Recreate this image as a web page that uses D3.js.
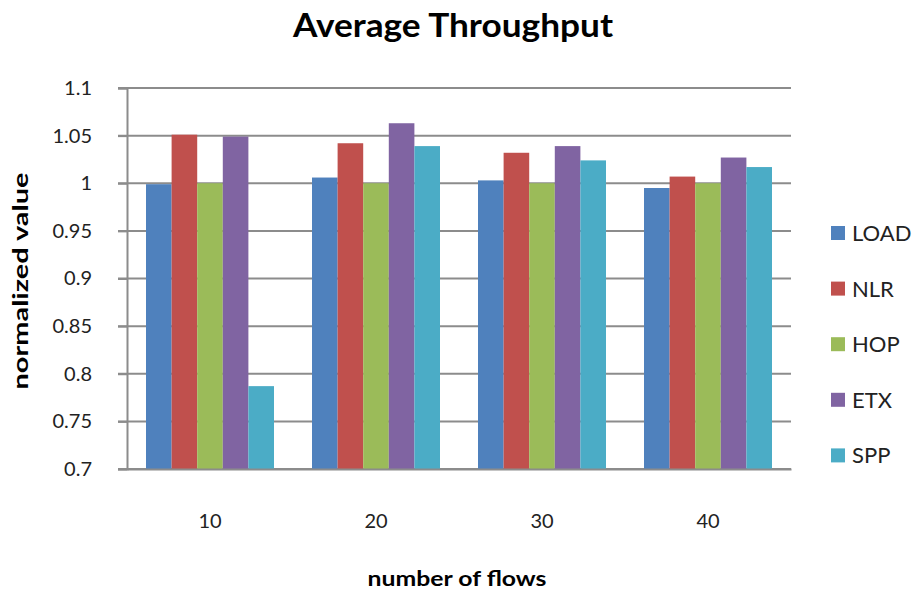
<!DOCTYPE html>
<html lang="en">
<head>
    <meta charset="UTF-8">
    <title>Average Throughput</title>
    <script src="https://cdn.jsdelivr.net/npm/d3@7"></script>
    <style>
      body { margin: 0; background: #fff; }
      text { font-family: Lato, "Open Sans", sans-serif; }
    </style>
</head>
<body>
    <script>
      const flows = ["10", "20", "30", "40"];
      const series = ["LOAD", "NLR", "HOP", "ETX", "SPP"];
      const colors = ["#4f81bd", "#c0504d", "#9bbb59", "#8064a2", "#4bacc6"];
      const LOAD = [0.999, 1.006, 1.003, 0.995];
      const NLR  = [1.051, 1.042, 1.032, 1.007];
      const HOP  = [1.000, 1.000, 1.000, 1.000];
      const ETX  = [1.049, 1.063, 1.039, 1.027];
      const SPP  = [0.787, 1.039, 1.024, 1.017];
      const yTicks = [0.7, 0.75, 0.8, 0.85, 0.9, 0.95, 1, 1.05, 1.1];

      const values = [LOAD, NLR, HOP, ETX, SPP];

      const w = 916;
      const h = 593;
      const plotLeft = 127, plotRight = 791, plotTop = 88, plotBottom = 469;

      const x0 = d3.scaleBand()
                   .domain(flows)
                   .range([plotLeft, plotRight])
                   .paddingInner(0.229)
                   .paddingOuter(0.1145);

      const x1 = d3.scaleBand()
                   .domain(series)
                   .range([0, x0.bandwidth()]);

      const yScale = d3.scaleLinear()
                       .domain([0.7, 1.1])
                       .range([plotBottom, plotTop]);

      const svg = d3.select("body")
                    .append("svg")
                    .attr("width", w)
                    .attr("height", h);

      // gridlines
      svg.append("g")
         .selectAll("line")
         .data(yTicks)
         .enter()
         .append("line")
         .attr("x1", plotLeft - 9)
         .attr("x2", plotRight)
         .attr("y1", d => yScale(d))
         .attr("y2", d => yScale(d))
         .attr("stroke", "#8c8c8c")
         .attr("stroke-width", 2);

      // bars
      flows.forEach((f, i) => {
        svg.append("g")
           .attr("transform", `translate(${x0(f)},0)`)
           .selectAll("rect")
           .data(series)
           .enter()
           .append("rect")
           .attr("x", s => x1(s))
           .attr("width", x1.bandwidth())
           .attr("y", (s, j) => yScale(values[j][i]))
           .attr("height", (s, j) => plotBottom - yScale(values[j][i]))
           .attr("fill", (s, j) => colors[j]);
      });

      // y axis
      const yAxis = d3.axisLeft(yScale)
                      .tickValues(yTicks)
                      .tickFormat(d => String(+d.toFixed(2)))
                      .tickSize(9)
                      .tickPadding(26);
      const gy = svg.append("g")
                    .attr("transform", `translate(${plotLeft},0)`)
                    .call(yAxis);
      gy.select(".domain").attr("stroke", "#8c8c8c").attr("stroke-width", 2);
      gy.selectAll(".tick line").attr("stroke", "#8c8c8c").attr("stroke-width", 2);
      gy.selectAll("text").attr("font-size", 20).attr("fill", "#222");

      // x axis
      const xAxis = d3.axisBottom(x0).tickSize(0).tickPadding(45);
      const gx = svg.append("g")
                    .attr("transform", `translate(0,${plotBottom})`)
                    .call(xAxis);
      gx.select(".domain").attr("stroke", "#8c8c8c").attr("stroke-width", 2);
      gx.selectAll("text").attr("font-size", 20).attr("fill", "#222");

      // title
      svg.append("text")
         .attr("x", 453)
         .attr("y", 37)
         .attr("text-anchor", "middle")
         .attr("font-size", 32)
         .attr("font-weight", "bold")
         .attr("textLength", 320)
         .attr("lengthAdjust", "spacingAndGlyphs")
         .text("Average Throughput");

      // axis titles
      svg.append("text")
         .attr("x", 457)
         .attr("y", 586)
         .attr("text-anchor", "middle")
         .attr("font-size", 20)
         .attr("font-weight", "bold")
         .attr("textLength", 179)
         .attr("lengthAdjust", "spacingAndGlyphs")
         .text("number of flows");

      svg.append("g")
         .attr("transform", `translate(28, 281)`)
         .append("text")
         .attr("text-anchor", "middle")
         .attr("transform", "rotate(-90)")
         .attr("font-size", 20)
         .attr("font-weight", "bold")
         .attr("textLength", 217)
         .attr("lengthAdjust", "spacingAndGlyphs")
         .text("normalized value");

      // legend
      const legend = svg.append("g")
                        .selectAll("g")
                        .data(series)
                        .enter()
                        .append("g")
                        .attr("transform", (d, i) => `translate(831, ${226 + i * 55.6})`);
      legend.append("rect")
            .attr("width", 14)
            .attr("height", 14)
            .attr("fill", (d, i) => colors[i]);
      legend.append("text")
            .attr("x", 21)
            .attr("y", 15)
            .attr("font-size", 22)
            .attr("fill", "#222")
            .text(d => d);
    </script>
</body>
</html>
